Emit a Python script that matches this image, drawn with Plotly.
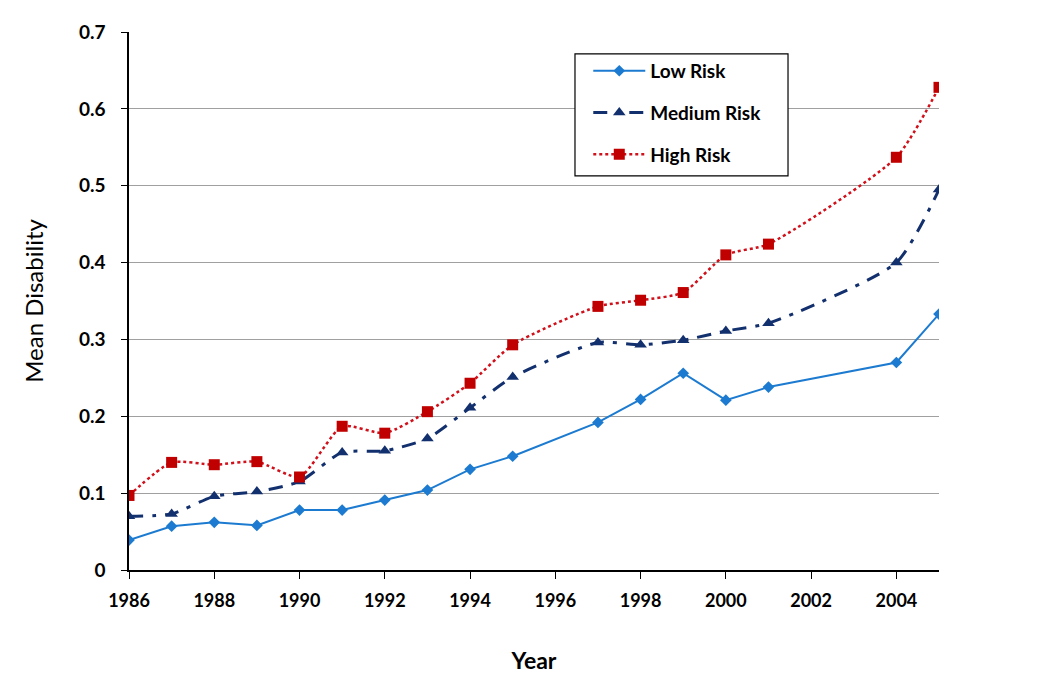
import plotly.graph_objects as go

years = [1986, 1987, 1988, 1989, 1990, 1991, 1992, 1993, 1994, 1995, 1997, 1998, 1999, 2000, 2001, 2004, 2005]
low_risk = [0.039, 0.057, 0.062, 0.058, 0.078, 0.078, 0.091, 0.104, 0.131, 0.148, 0.192, 0.222, 0.256, 0.221, 0.238, 0.270, 0.333]
medium_risk = [0.070, 0.073, 0.096, 0.102, 0.115, 0.153, 0.155, 0.171, 0.211, 0.251, 0.296, 0.293, 0.299, 0.311, 0.321, 0.400, 0.495]
high_risk = [0.097, 0.140, 0.137, 0.141, 0.121, 0.187, 0.178, 0.206, 0.243, 0.293, 0.343, 0.351, 0.361, 0.410, 0.424, 0.537, 0.628]

x_ticks = list(range(1986, 2006, 2))
y_ticks = [0, 0.1, 0.2, 0.3, 0.4, 0.5, 0.6, 0.7]
y_labels = ["0", "0.1", "0.2", "0.3", "0.4", "0.5", "0.6", "0.7"]

FONT = "Lato"

fig = go.Figure()
fig.add_trace(go.Scatter(
    x=years, y=low_risk, name="Low Risk", mode="lines+markers", legendgroup="a",
    line=dict(color="#1C7BD0", width=2),
    marker=dict(symbol="diamond", size=9, color="#1C7BD0"),
))
fig.add_trace(go.Scatter(
    x=years, y=medium_risk, name="Medium Risk", mode="lines+markers", legendgroup="b",
    line=dict(color="#13306E", width=3, dash="14px,9px,4px,9px", shape="spline", smoothing=0.6),
    marker=dict(symbol="triangle-up", size=11, color="#13306E"),
))
fig.add_trace(go.Scatter(
    x=years, y=high_risk, name="High Risk", mode="lines+markers", legendgroup="c",
    line=dict(color="#D0101A", width=2.5, dash="dot", shape="spline", smoothing=0.6),
    marker=dict(symbol="square", size=11, color="#C00000"),
))

# legend frame
fig.add_shape(
    type="rect", xref="paper", yref="paper",
    x0=0.5506, x1=0.8136, y0=0.7325, y1=0.9594,
    line=dict(color="black", width=1.2), fillcolor="white", layer="above",
)

fig.update_layout(
    width=1050, height=693,
    margin=dict(l=121, r=119, t=20, b=131),
    paper_bgcolor="white", plot_bgcolor="white",
    font=dict(family=FONT, size=16, color="black"),
    showlegend=True,
    legend=dict(
        x=0.567, y=0.963, xanchor="left", yanchor="top",
        bgcolor="rgba(0,0,0,0)", borderwidth=0,
        font=dict(family=FONT, size=19, color="black", weight="bold"),
        traceorder="grouped", tracegroupgap=14, itemwidth=52,
    ),
    xaxis=dict(
        title=dict(text="Year", font=dict(family=FONT, size=23, weight="bold"), standoff=43),
        range=[1986, 2005], tickvals=x_ticks, ticktext=[str(t) for t in x_ticks],
        tickfont=dict(family=FONT, size=18, weight="bold"),
        showgrid=False, zeroline=False,
        showline=True, linecolor="black", linewidth=1.5,
        ticks="outside", ticklen=7, tickcolor="black", ticklabelstandoff=7,
    ),
    yaxis=dict(
        title=dict(text="Mean Disability", font=dict(family=FONT, size=24), standoff=28),
        range=[0, 0.7], tickvals=y_ticks, ticktext=y_labels,
        tickfont=dict(family=FONT, size=19, weight="bold"),
        showgrid=True, gridcolor="#A0A0A0", gridwidth=1, zeroline=False,
        showline=True, linecolor="black", linewidth=1.5,
        ticks="outside", ticklen=6, tickcolor="black", ticklabelstandoff=12,
    ),
)

fig.write_html("out.html")
